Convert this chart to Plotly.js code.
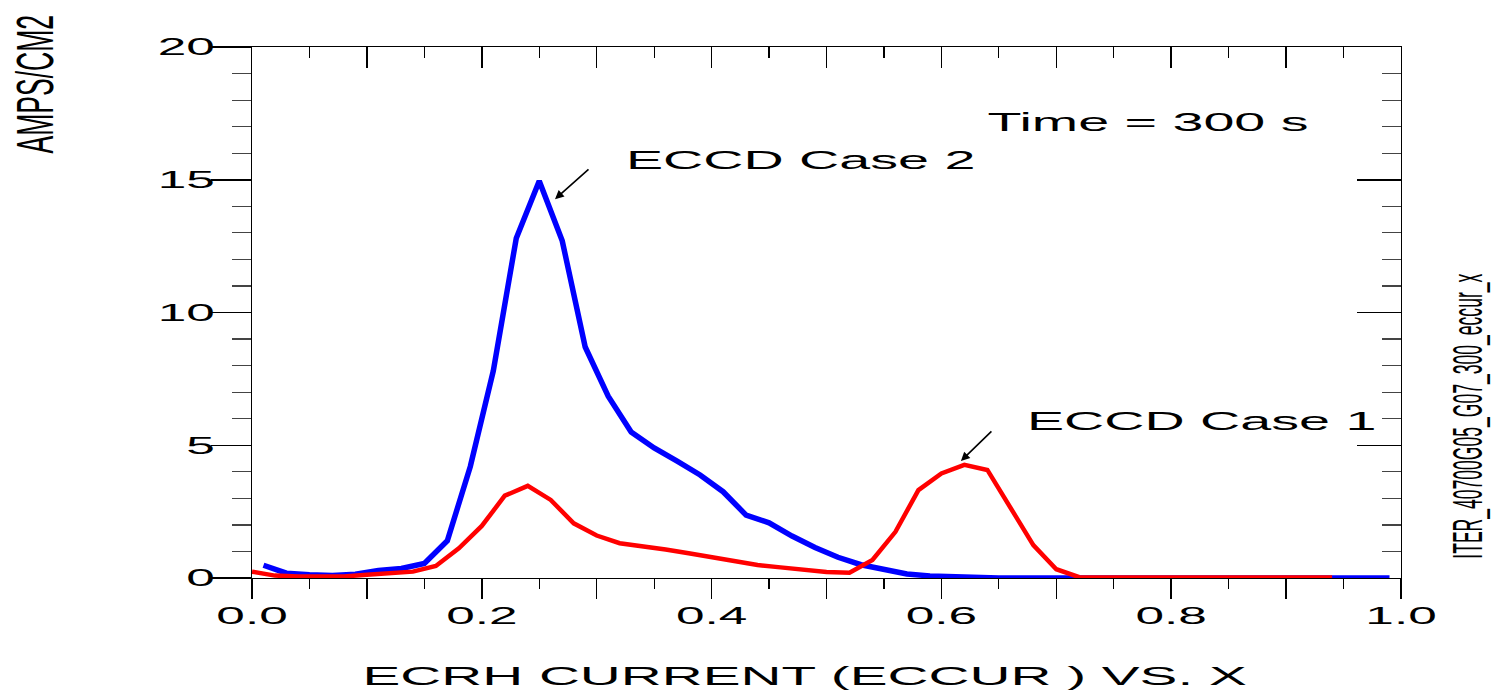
<!DOCTYPE html>
<html>
<head>
<meta charset="utf-8">
<script src="https://cdn.plot.ly/plotly-3.0.1.min.js"></script>
<style>
  html, body { margin: 0; padding: 0; background: #ffffff; }
  #chart { width: 1493px; height: 695px; }
</style>
</head>
<body>
<div id="chart"></div>
<script>
// ECCD current density profiles at t = 300 s
const xCase2 = [0.01, 0.03, 0.05, 0.07, 0.09, 0.11, 0.13, 0.15, 0.17, 0.19,
                0.21, 0.23, 0.25, 0.27, 0.29, 0.31, 0.33, 0.35, 0.37, 0.39,
                0.41, 0.43, 0.45, 0.47, 0.49, 0.51, 0.53, 0.55, 0.57, 0.59,
                0.61, 0.63, 0.65, 0.67, 0.69, 0.71, 0.73, 0.75, 0.77, 0.79,
                0.81, 0.83, 0.85, 0.87, 0.89, 0.91, 0.93, 0.95, 0.97, 0.99];
const jCase2 = [0.48, 0.18, 0.12, 0.09, 0.14, 0.28, 0.36, 0.55, 1.40, 4.20,
                7.80, 12.80, 14.95, 12.70, 8.70, 6.85, 5.50, 4.90, 4.40, 3.88,
                3.25, 2.37, 2.08, 1.58, 1.15, 0.78, 0.50, 0.30, 0.15, 0.08,
                0.04, 0.01, 0.00, 0.00, 0.00, 0.00, 0.00, 0.00, 0.00, 0.00,
                0.00, 0.00, 0.00, 0.00, 0.00, 0.00, 0.00, 0.00, 0.00, 0.00];

const xCase1 = [0.00, 0.02, 0.04, 0.06, 0.08, 0.10, 0.12, 0.14, 0.16, 0.18,
                0.20, 0.22, 0.24, 0.26, 0.28, 0.30, 0.32, 0.34, 0.36, 0.38,
                0.40, 0.42, 0.44, 0.46, 0.48, 0.50, 0.52, 0.54, 0.56, 0.58,
                0.60, 0.62, 0.64, 0.66, 0.68, 0.70, 0.72, 0.74, 0.76, 0.78,
                0.80, 0.82, 0.84, 0.86, 0.88, 0.90, 0.92, 0.94];
const jCase1 = [0.24, 0.09, 0.06, 0.05, 0.06, 0.12, 0.18, 0.24, 0.45, 1.12,
                1.96, 3.10, 3.47, 2.94, 2.06, 1.60, 1.31, 1.20, 1.07, 0.93,
                0.78, 0.64, 0.49, 0.40, 0.30, 0.23, 0.20, 0.68, 1.74, 3.31,
                3.94, 4.26, 4.07, 2.69, 1.24, 0.33, 0.03, 0.02, 0.02, 0.02,
                0.02, 0.02, 0.02, 0.02, 0.02, 0.02, 0.02, 0.02];

// Axis ticks and labels
const xTickVals = [0, 0.1, 0.2, 0.3, 0.4, 0.5, 0.6, 0.7, 0.8, 0.9, 1.0];
const xTickText = ['0.0', '', '0.2', '', '0.4', '', '0.6', '', '0.8', '', '1.0'];
const yTickVals = [0, 5, 10, 15, 20];
const yTickText = ['0', '5', '10', '15', '20'];

// Texts
const xTitle = 'ECRH CURRENT (ECCUR ) VS. X';
const yTitle = 'AMPS/CM2';
const timeLabel = 'Time = 300 s';
const case2Label = 'ECCD Case 2';
const case1Label = 'ECCD Case 1';
const runId = 'ITER_40700G05_G07_300_eccur_x';

const FONT = 'Liberation Sans, Arial, Helvetica, sans-serif';
const HSTRETCH = 2.14;   // lettering is drawn wide

const traces = [
  { x: xCase2, y: jCase2, type: 'scatter', mode: 'lines', name: case2Label,
    xaxis: 'x', yaxis: 'y',
    line: { color: '#0000ff', width: 5.5 }, hoverinfo: 'skip' },
  { x: xCase1, y: jCase1, type: 'scatter', mode: 'lines', name: case1Label,
    xaxis: 'x2', yaxis: 'y2',
    line: { color: '#ff0000', width: 4.5 }, hoverinfo: 'skip' }
];

const tickBase = { tickcolor: '#000', tickwidth: 1.5, showgrid: false, zeroline: false,
                   showline: true, linecolor: '#000', linewidth: 1.3, fixedrange: true };

const layout = {
  width: 1493, height: 695,
  margin: { l: 252, r: 92, t: 47, b: 117, pad: 0 },
  paper_bgcolor: '#ffffff', plot_bgcolor: '#ffffff',
  showlegend: false,
  font: { family: FONT, color: '#000' },
  xaxis: Object.assign({}, tickBase, {
    range: [0, 1], side: 'bottom', anchor: 'y',
    tickmode: 'array', tickvals: xTickVals, ticktext: xTickText,
    ticks: 'outside', ticklen: 20, ticklabelstandoff: -4,
    tickfont: { family: FONT, size: 24, color: '#000' },
    minor: { tickmode: 'linear', tick0: 0, dtick: 0.05, ticks: 'outside', ticklen: 10,
             tickwidth: 1.2, tickcolor: '#000' }
  }),
  yaxis: Object.assign({}, tickBase, {
    range: [0, 20], side: 'left', anchor: 'x',
    tickmode: 'array', tickvals: yTickVals, ticktext: yTickText,
    ticks: 'outside', ticklen: 40, ticklabelstandoff: -9,
    tickfont: { family: FONT, size: 24, color: '#000' },
    minor: { tickmode: 'linear', tick0: 0, dtick: 1, ticks: 'outside', ticklen: 19,
             tickwidth: 1.2, tickcolor: '#444' }
  }),
  xaxis2: Object.assign({}, tickBase, {
    range: [0, 1], side: 'top', overlaying: 'x', anchor: 'y',
    tickmode: 'array', tickvals: xTickVals, showticklabels: false,
    ticks: 'inside', ticklen: 21,
    minor: { tickmode: 'linear', tick0: 0, dtick: 0.05, ticks: 'inside', ticklen: 11,
             tickwidth: 1.2, tickcolor: '#000' }
  }),
  yaxis2: Object.assign({}, tickBase, {
    range: [0, 20], side: 'right', overlaying: 'y', anchor: 'x',
    tickmode: 'array', tickvals: yTickVals, showticklabels: false,
    ticks: 'inside', ticklen: 44,
    minor: { tickmode: 'linear', tick0: 0, dtick: 1, ticks: 'inside', ticklen: 19,
             tickwidth: 1.2, tickcolor: '#444' }
  }),
  annotations: [
    { text: timeLabel, xref: 'paper', yref: 'paper', x: 0.780, y: 0.858,
      xanchor: 'center', yanchor: 'middle', showarrow: false,
      font: { family: FONT, size: 26, color: '#000' } },
    { text: case2Label, xref: 'paper', yref: 'paper', x: 0.477, y: 0.788,
      xanchor: 'center', yanchor: 'middle', showarrow: false,
      font: { family: FONT, size: 26, color: '#000' } },
    { text: case1Label, xref: 'paper', yref: 'paper', x: 0.826, y: 0.296,
      xanchor: 'center', yanchor: 'middle', showarrow: false,
      font: { family: FONT, size: 26, color: '#000' } },
    { text: '', xref: 'x', yref: 'y', x: 0.2637, y: 14.27, ax: 35, ay: -31,
      showarrow: true, arrowhead: 2, arrowsize: 1.1, arrowwidth: 1.6, arrowcolor: '#000', standoff: 0 },
    { text: '', xref: 'x', yref: 'y', x: 0.617, y: 4.41, ax: 32, ay: -31,
      showarrow: true, arrowhead: 2, arrowsize: 1.1, arrowwidth: 1.6, arrowcolor: '#000', standoff: 0 },
    { text: xTitle, xref: 'paper', yref: 'paper', x: 0.4813, y: -0.1846,
      xanchor: 'center', yanchor: 'middle', showarrow: false,
      font: { family: FONT, size: 26.5, color: '#000' } },
    { text: yTitle, xref: 'paper', yref: 'paper', x: -0.1889, y: 0.9303,
      xanchor: 'center', yanchor: 'middle', showarrow: false, textangle: -90,
      font: { family: FONT, size: 52, color: '#000' } },
    { text: runId, xref: 'paper', yref: 'paper', x: 1.0575, y: 0.305,
      xanchor: 'center', yanchor: 'middle', showarrow: false, textangle: -90,
      font: { family: FONT, size: 42, color: '#000' } }
  ]
};

// horizontal scale applied to each annotation's lettering (by index)
const annStretch = [HSTRETCH, HSTRETCH, HSTRETCH, 0, 0, HSTRETCH, 0.51, 0.418];

function stretchText(el, k) {
  const w = el.getComputedTextLength();
  if (!w || !k) return;
  el.setAttribute('textLength', (w * k).toFixed(1));
  el.setAttribute('lengthAdjust', 'spacingAndGlyphs');
}

const gd = document.getElementById('chart');
Plotly.newPlot(gd, traces, layout, { staticPlot: true, displayModeBar: false }).then(function () {
  gd.querySelectorAll('g.xtick text, g.ytick text').forEach(function (t) { stretchText(t, HSTRETCH); });
  gd.querySelectorAll('g.annotation').forEach(function (g) {
    const i = +g.getAttribute('data-index');
    const t = g.querySelector('text.annotation-text');
    if (t) stretchText(t, annStretch[i]);
  });
});
</script>
</body>
</html>
